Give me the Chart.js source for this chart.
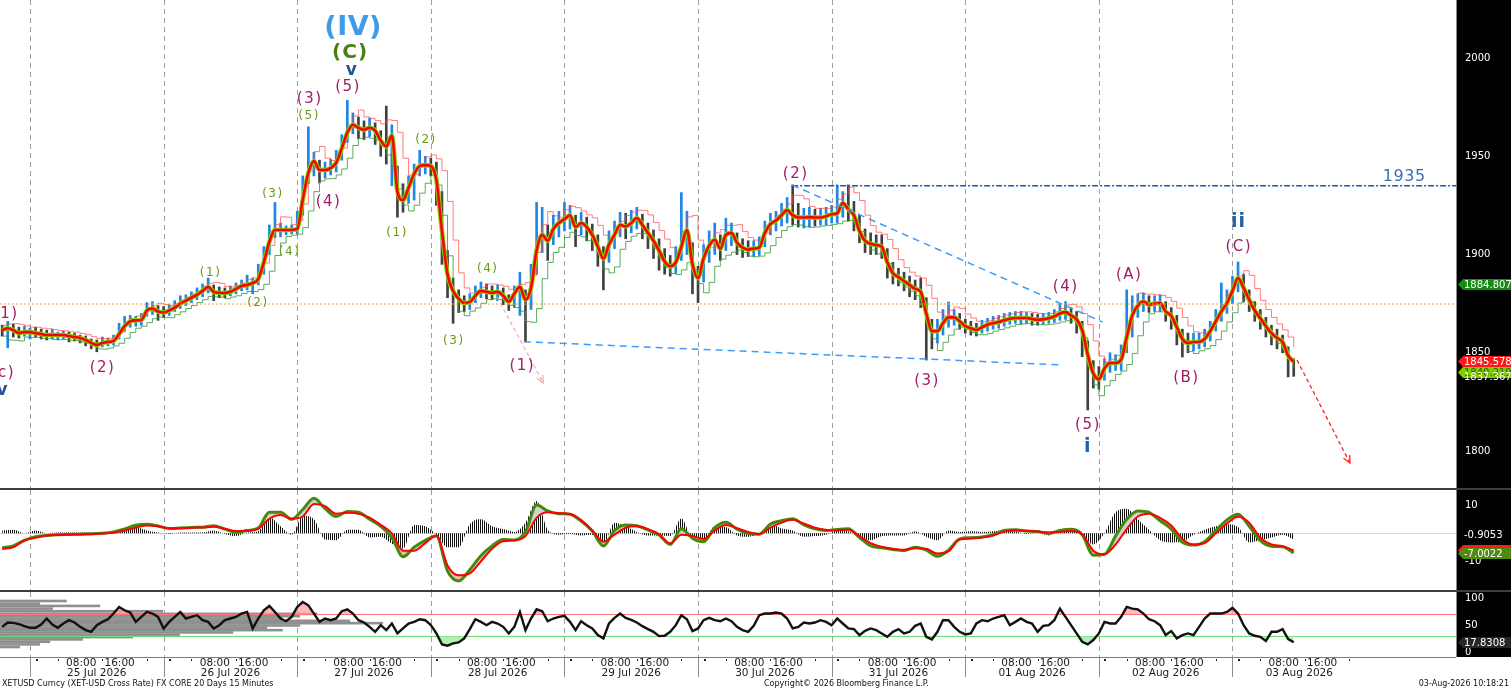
<!DOCTYPE html>
<html>
<head>
<meta charset="utf-8">
<title>XETUSD 15 min</title>
<script src="https://cdn.jsdelivr.net/npm/chart.js@4.4.1/dist/chart.umd.min.js"></script>
<style>
  html, body { margin:0; padding:0; background:#fff; }
  body { width:1511px; height:689px; position:relative; overflow:hidden; font-family:"DejaVu Sans", Verdana, sans-serif; }
  canvas { position:absolute; left:0; }
  #cMain { top:0; }
  #cMacd { top:490px; }
  #cRsi { top:592px; }
  .sep { position:absolute; left:0; width:1511px; height:2px; background:#3d3d3d; }
  .foot { position:absolute; top:679px; font-size:8px; line-height:10px; color:#111; white-space:nowrap; }
</style>
</head>
<body>
<canvas id="cMain" width="1511" height="488"></canvas>
<div class="sep" style="top:488px"></div>
<canvas id="cMacd" width="1511" height="100"></canvas>
<div class="sep" style="top:590px"></div>
<canvas id="cRsi" width="1511" height="97"></canvas>
<div class="foot" style="left:2px">XETUSD Curncy (XET-USD Cross Rate) FX CORE 20 Days 15 Minutes</div>
<div class="foot" style="left:764px">Copyright© 2026 Bloomberg Finance L.P.</div>
<div class="foot" style="right:2px">03-Aug-2026 10:18:21</div>
<script>
Chart.defaults.font.family = '"DejaVu Sans", Verdana, sans-serif';
Chart.defaults.animation = false;

// hours are counted from 25 Jul 2026 00:00, first bar is 24 Jul 19:00
const firstHour = -5;
const xMin = -5.389, xMax = 256.15;
const dayLabels = ['25 Jul 2026','26 Jul 2026','27 Jul 2026','28 Jul 2026','29 Jul 2026',
                   '30 Jul 2026','31 Jul 2026','01 Aug 2026','02 Aug 2026','03 Aug 2026'];
const priceTicks = [1800, 1850, 1900, 1950, 2000];
const macdTicks = [10, -10];
const rsiTicks = [100, 50, 0];

// hourly price (moving average line, bar high, bar low)
const ma = [
  1861.5,1862.5,1861.5,1860,1860.5,1860.5,1860,1859.5,1859,1859,
  1859,1859,1858.5,1858,1857.5,1856.5,1855,1854,1855,1855.5,
  1856,1859.5,1863.5,1866,1866.5,1866.7,1871.5,1872.5,1871,1870.5,
  1871.5,1873,1875,1876.5,1878,1879.5,1881.5,1883.5,1881,1880.5,
  1880.4,1881,1882.5,1884,1884.5,1885.5,1887.5,1896,1906.5,1912.5,
  1912.5,1912.5,1912.5,1913,1928,1941.5,1947.5,1943,1943,1944,
  1946.7,1954,1962,1966,1964.5,1963.5,1964.5,1963,1958,1955,
  1960.5,1932,1927.7,1934,1941,1945,1945.5,1945,1938,1912,
  1890,1881.5,1877.5,1875.3,1875.8,1879,1881.5,1881,1880.5,1881,
  1879,1876,1880,1883.5,1877,1883,1902,1910,1907,1913,
  1916,1918,1920,1914,1916,1914,1910,1904,1898,1905,
  1910,1915,1914.3,1916,1918.6,1915,1911,1907,1902,1896.5,
  1894,1896,1904,1912.5,1895,1888,1898,1904.5,1907.5,1903,
  1910,1911,1906,1903.5,1902.5,1903,1903.5,1911,1915.5,1917.3,
  1920,1922.6,1920,1918.8,1918.8,1919,1918.8,1918.8,1919.5,1920.5,
  1921,1926.2,1923,1920,1912,1907,1905.5,1904.8,1904,1896,
  1890.5,1888.5,1886.5,1884.5,1882.5,1881,1870,1861,1861,1865,
  1868,1868,1866,1863.5,1862.5,1861.6,1863,1864.3,1865,1865.6,
  1866.5,1867.3,1867.7,1867.7,1867.7,1867.2,1866.8,1867,1867.5,1868.5,
  1870,1870.7,1869,1867,1861.6,1849,1839.5,1836.5,1842,1844.8,
  1844.8,1846.5,1858,1869,1874,1876,1874.5,1875,1875.3,1871,
  1868.8,1863,1857,1855,1855.5,1855.5,1857,1861,1866,1871,
  1875.3,1881.5,1888,1883,1877,1871.5,1867.5,1863.5,1860,1857.5,
  1855.5,1848.5,1845.5
];
const hi = [
  1864,1866,1864.5,1863,1863.5,1862.5,1863,1862,1861.5,1862,
  1860.5,1861,1860.5,1860,1859,1858.5,1857,1856.5,1858,1857.5,
  1859,1865,1868.5,1869,1868.5,1870,1875.5,1876,1874,1873.5,
  1874.5,1876.5,1879,1879.5,1881,1883,1885,1888,1884.5,1883.5,
  1883,1884,1885.5,1887,1889.5,1888,1895,1904,1915,1926.5,
  1916,1914.5,1915,1922,1940,1965,1952,1948,1947,1948.5,
  1953,1961,1978.5,1972,1970,1968,1969.5,1967,1963,1975.5,
  1966,1945,1936,1940,1946,1953,1950,1949,1947,1932,
  1902,1888,1882,1879,1880,1884,1886,1885,1884,1884.5,
  1883,1879.5,1884,1891,1882,1895,1926.5,1924,1915,1920,
  1922,1926.5,1925,1920,1921.5,1919,1915.5,1910,1904,1912,
  1917,1921.5,1921,1922.5,1924,1920.5,1916,1912.5,1908,1903,
  1899.5,1904,1931.5,1922,1906,1894,1905,1912,1916,1910,
  1918.5,1916,1911,1908,1907,1907,1909,1917,1921,1922,
  1926,1929,1935.4,1926,1923.5,1924,1923,1923.5,1924,1925,
  1935.4,1932,1935.4,1927,1920,1913,1911,1910,1910,1903,
  1896,1893,1891,1889,1887,1888,1878,1867,1867,1872,
  1875.8,1872,1870,1867,1866,1865,1866.5,1867.5,1868.5,1869,
  1870,1870.5,1871,1871,1870.5,1870,1869.5,1870,1870.5,1872,
  1875,1876,1873,1871,1866,1856,1846,1843,1847,1850,
  1849,1854,1882,1879,1880,1880.5,1879,1879,1879.5,1876,
  1873,1869,1862,1860,1860,1860,1862,1866,1872,1885.5,
  1882,1889,1896.2,1890,1882,1876,1872,1868,1864,1862,
  1859,1853,1847
];
const lo = [
  1858.5,1852.5,1858,1857.5,1858.5,1857,1858,1857,1856.5,1857,
  1856.5,1857,1855.5,1856,1855,1853.5,1852,1850.5,1853,1853.5,
  1854,1857,1861,1863,1863.5,1864,1868.5,1869.5,1866.5,1868,
  1869,1871,1872.5,1874,1875.5,1877,1878.5,1880.5,1876.5,1878,
  1878,1879,1880,1881.5,1882,1880,1884.5,1890,1900,1908.5,
  1909,1910,1910.5,1910.5,1920,1936,1940,1936.5,1939,1940.5,
  1942,1948,1957,1961.5,1959,1958.5,1960,1956,1950,1946,
  1935,1919,1921.5,1926,1927.7,1940,1941,1940,1925,1895,
  1878,1865,1870.5,1871,1872,1875.5,1878,1877.5,1877,1876.5,
  1874.5,1871.5,1873,1869,1855.5,1872,1890,1901,1897,1905,
  1909,1912,1913,1904,1910,1907,1902,1894,1882,1896,
  1903,1909,1908,1911,1913,1908,1903,1898,1892,1890,
  1889,1890.5,1897,1900,1880,1875.5,1886,1896,1900,1897,
  1902,1904.5,1900,1898.5,1899,1899,1899.5,1904,1910,1912,
  1914.5,1916,1915,1914,1913.5,1914,1914.5,1915,1915,1916,
  1916,1919,1917,1912,1906,1901,1900,1900,1898,1888,
  1885,1884,1881.5,1878.5,1877,1873,1846.3,1852,1855,1859,
  1863,1864,1862,1860,1859,1858.5,1860,1861,1862,1862.5,
  1863.5,1864.5,1865,1864.5,1865,1864,1864,1864.5,1865,1865.5,
  1866.5,1867,1865,1860,1848,1820.9,1832,1831.5,1836,1840,
  1841,1841,1850,1858,1868,1871,1870.5,1871,1871,1866,
  1862,1854,1847.8,1850,1851,1852,1853,1856,1861,1866,
  1870,1875,1881,1876,1871,1866,1862,1858,1854,1852,
  1850,1837.7,1838
];

// MACD panel, one value every 2 hours from firstHour
const macdLine = [
  -5.2,-4.5,-2.5,-1.2,-0.8,-0.5,-0.4,-0.3,-0.2,0.0,
  0.5,1.6,2.9,3.2,2.6,1.7,1.9,2.1,2.2,2.7,
  1.5,0.4,1.0,1.9,7.5,7.5,5.0,8.5,12.5,8.8,
  6.0,7.8,7.5,5.0,2.5,-1.5,-8.4,-5.0,-2.5,-1.0,
  -13.5,-17.0,-13.0,-8.0,-4.5,-2.2,-2.4,0.5,10.1,8.0,
  7.0,6.8,4.4,0.8,-4.5,1.0,3.0,2.7,1.2,-0.6,
  -4.0,1.6,-1.8,-3.0,2.0,3.9,1.5,0.0,-0.3,3.3,
  4.5,5.2,3.0,1.6,1.0,1.4,1.6,-1.5,-4.5,-5.2,
  -5.8,-6.2,-5.0,-6.0,-8.2,-6.0,-2.0,-1.6,-1.3,-0.5,
  1.0,1.3,0.8,0.6,0.0,1.0,1.4,-0.5,-7.8,-7.5,
  -1.0,5.0,8.0,7.5,4.5,1.5,-3.2,-4.2,-3.0,1.0,
  4.8,6.8,2.5,-2.6,-4.6,-4.8,-7.0
];
const signalLine = [
  -5.6,-5.0,-2.5,-1.6,-0.8,-0.6,-0.5,-0.4,-0.3,-0.1,
  0.2,1.0,2.0,2.8,2.5,1.8,1.8,2.0,2.1,2.3,
  1.6,0.8,0.9,1.6,5.2,6.5,5.2,6.0,10.5,9.7,
  7.0,7.3,7.0,5.6,3.0,0.0,-6.2,-6.2,-3.5,-0.8,
  -11.5,-15.0,-14.3,-10.0,-5.5,-2.8,-2.6,-1.0,5.5,7.5,
  7.2,6.9,4.7,1.0,-3.0,-0.5,2.0,2.5,1.5,-0.3,
  -3.6,-0.5,-1.0,-2.0,1.0,3.0,1.8,0.5,-0.3,2.0,
  3.8,4.8,3.5,2.0,1.2,1.0,1.3,-1.0,-3.5,-4.8,
  -5.5,-5.9,-5.3,-5.5,-7.2,-6.4,-2.2,-1.9,-1.5,-0.8,
  0.6,1.0,0.9,0.6,0.3,0.5,0.8,-0.3,-6.2,-7.5,
  -4.0,1.5,6.0,7.0,5.5,2.8,-2.0,-4.0,-3.5,0.0,
  3.5,5.9,3.8,-1.6,-4.0,-4.6,-6.1
];

// RSI panel, hourly from firstHour
const rsi = [
  46.6,54.6,54,51.5,47.9,44.8,44.8,50.9,62,50.9,
  44.8,52.8,58.9,54.6,46.6,40.5,37.4,49.7,55.8,60.7,
  71.2,83.4,77.3,73,55.8,65,74.2,71.2,65,43.6,
  55.8,65,74.2,62,65,68.1,58.9,55.8,43.6,49.7,
  58.9,62,65,71.2,74.2,43.6,62,77.3,85.3,74.2,
  62,57,65,83.4,92.6,86.5,71.2,55.8,62,58.9,
  62,75.5,79.1,71.2,58.9,54.6,46.6,37.4,49.7,40.5,
  52.8,34.4,43.6,52.8,55.8,60.7,58.9,49.7,34.4,14.1,
  11.7,16,17.8,25.2,42.3,60.7,55.8,49.7,55.8,52.8,
  46.6,34.4,46.6,74.2,40.5,62,79.1,75.5,57,62,
  65,66.9,55.8,40.5,57,49.7,43.6,31.3,25.2,52.8,
  63.2,71.2,63.2,59.5,54.6,47.9,42.3,37.4,29.4,30,
  37.4,49.7,68.1,60.7,38.7,43.6,58.9,63.2,58.9,57,
  62,57,46.6,40.5,37.4,48.5,68.1,71.2,71.2,73,
  71.2,62,43.6,46.6,54.6,52.8,54.6,58.9,55.8,49.7,
  62,52.8,43.6,42.3,31.3,39.3,43.6,40.5,34.4,28.2,
  37.4,42.3,34.4,37.4,48.5,52.8,28.2,23.3,37.4,58.9,
  58.9,46.6,37.4,32.5,34.4,52.8,58.9,57,62,65,
  68.1,49.7,55.8,62,55.8,52.8,37.4,48.5,49.7,58.9,
  80.4,65,49.7,34.4,19,14.1,22.1,34.4,55.8,52.8,
  52.8,65,83.4,80.4,79.1,71.2,60.7,57,49.7,31.3,
  38.7,25.2,31.3,34.4,31.3,46.6,62,71.2,71.2,71.2,
  74.2,81.6,71.2,49.7,34.4,30,28.2,20.2,37.4,37.4,
  42.3,23.9,18
];
// grey distribution bars at the left of the RSI panel (level, length in hours)
const profLevel = [94.5,89.6,85.3,80.4,75.5,70.6,66.3,62,57.7,53.4,49.1,44.8,40.5,36.2,31.9,27.6,23.3,19,14.1,9.2];
const profLen   = [12,7.2,18,9.5,29.3,57,53.9,50.8,62.9,68.8,53.9,48,50.8,41.9,32.3,23.9,14.9,9,7.2,3.6];

const priceTags = [1884.807, 1840.219, 1845.578];
const lastPrice = 1837.367;
const macdHist = -0.9053, macdLast = -7.0022, signalLast = -6.1;
const rsiLast = 17.8308;

// wave labels: text, hour, price, style
const waves = [
  ['(IV)', 58.0, 2015.5, 'IV'], ['(C)', 57.4, 2002.5, 'CG'], ['v', 57.7, 1993.4, 'vb'],
  ['(5)', 57.0, 1985.2, 'M'], ['(3)', 50.1, 1979.1, 'M'], ['(5)', 50.0, 1970.5, 'G'],
  ['(4)', 53.5, 1926.9, 'M'], ['(3)', 43.5, 1930.8, 'G'], ['(4)', 46.5, 1901.3, 'G'],
  ['(1)', 32.3, 1890.6, 'G'], ['(2)', 40.8, 1875.3, 'G'], ['(1)', 65.8, 1910.9, 'G'],
  ['(2)', 71.0, 1958.5, 'G'], ['(3)', 76.0, 1856.2, 'G'], ['(4)', 82.1, 1892.6, 'G'],
  ['(1)', 88.3, 1843.0, 'M'], ['(2)', 12.9, 1842.2, 'M'], ['(1)', -4.5, 1869.7, 'M'],
  ['(c)', -5.0, 1839.7, 'M'], ['v', -5.0, 1830.5, 'vb'],
  ['(2)', 137.4, 1941.0, 'M'], ['(3)', 161.0, 1835.4, 'M'], ['(4)', 185.9, 1883.3, 'M'],
  ['(5)', 189.9, 1813.2, 'M'], ['i', 189.9, 1802.0, 'B'], ['(A)', 197.3, 1889.3, 'M'],
  ['(B)', 207.6, 1837.2, 'M'], ['(C)', 217.0, 1904.0, 'M'], ['ii', 217.0, 1916.3, 'B'],
  ['1935', 246.8, 1939.4, 'L']
];
const waveStyle = {
  IV: ['bold 27px "DejaVu Sans"', '#3d9ce8', 0.5],
  CG: ['bold 20px "DejaVu Sans"', '#4a7f12', 1],
  vb: ['bold 17px "DejaVu Sans"', '#24549a', 0],
  M:  ['15px "DejaVu Sans"', '#a01c68', 1.5],
  G:  ['12px "DejaVu Sans"', '#6a9a12', 1.5],
  B:  ['bold 19px "DejaVu Sans"', '#2362a6', 1],
  L:  ['16px "DejaVu Sans"', '#3a70b0', 0.5]
};
// drawn lines: hour1, price1, hour2, price2, kind
const drawnLines = [
  [xMin, 1874.8, xMax, 1874.8, 'orange'],
  [136.9, 1935.0, xMax, 1935.0, 'level'],
  [136.9, 1935.4, 192.7, 1865.6, 'channel'],
  [88.7, 1855.6, 185.4, 1843.8, 'channel'],
  [83.9, 1878.4, 92.2, 1834.6, 'pink'],
  [227.6, 1846.3, 237.1, 1793.9, 'red']
];
const lineStyle = {
  orange:  ['#f5a33c', 1, [2, 2], false],
  level:   ['#1a5aa8', 1.3, [6, 2, 2, 2], false],
  channel: ['#3b9cff', 1.5, [7, 5], false],
  pink:    ['#f6a8a8', 1.2, [4, 3], true],
  red:     ['#ff1f1f', 1.3, [4, 3], true]
};

const hrs = ma.map((_, i) => firstHour + i);
const hrs2 = macdLine.map((_, i) => firstHour + 2 * i);
const pts = (xs, arr) => arr.map((v, i) => ({x: xs[i], y: v}));
// upper / lower envelope from the last three hourly highs and lows
const upper = hi.map((_, i) => (hi[Math.max(0, i - 2)] + hi[Math.max(0, i - 1)] + hi[i]) / 3);
const lower = lo.map((_, i) => (lo[Math.max(0, i - 2)] + lo[Math.max(0, i - 1)] + lo[i]) / 3);
const hist = macdLine.map((v, i) => v - signalLine[i]);

//------------------------------------------------- shared drawing helpers
function axisBox(c) {
  const {ctx, chartArea: a} = c;
  ctx.save();
  ctx.fillStyle = '#000';
  ctx.fillRect(a.right, a.top, c.width - a.right, a.bottom - a.top);
  ctx.fillStyle = '#8a8a8a';
  ctx.fillRect(a.right, a.top, 1, a.bottom - a.top);
  ctx.restore();
}
function dayLines(c) {
  const {ctx, chartArea: a, scales: {x}} = c;
  ctx.save();
  ctx.strokeStyle = '#9d9d9d'; ctx.lineWidth = 1; ctx.setLineDash([5, 4]);
  for (let d = 0; d < dayLabels.length; d++) {
    const px = Math.round(x.getPixelForValue(d * 24)) + 0.5;
    ctx.beginPath(); ctx.moveTo(px, a.top); ctx.lineTo(px, a.bottom); ctx.stroke();
  }
  ctx.restore();
}
function axisText(c, vals) {
  const {ctx, chartArea: a, scales: {y}} = c;
  ctx.save();
  ctx.font = '10px "DejaVu Sans"'; ctx.fillStyle = '#fff';
  ctx.textAlign = 'left'; ctx.textBaseline = 'middle';
  vals.forEach(v => ctx.fillText(String(v), a.right + 9, y.getPixelForValue(v)));
  ctx.restore();
}
function tag(c, v, txt, bg, fg) {
  const {ctx, chartArea: a, scales: {y}} = c;
  const py = Math.round(y.getPixelForValue(v)) + 0.5, x0 = a.right + 2;
  ctx.save();
  ctx.beginPath();
  ctx.moveTo(x0, py); ctx.lineTo(x0 + 5, py - 5.5); ctx.lineTo(c.width, py - 5.5);
  ctx.lineTo(c.width, py + 5.5); ctx.lineTo(x0 + 5, py + 5.5); ctx.closePath();
  ctx.fillStyle = bg; ctx.fill();
  if (txt) {
    ctx.font = '10px "DejaVu Sans"'; ctx.fillStyle = fg;
    ctx.textAlign = 'left'; ctx.textBaseline = 'middle';
    ctx.fillText(txt, a.right + 8, py + 0.5);
  }
  ctx.restore();
}
function plainTag(c, v, txt) {
  const {ctx, chartArea: a, scales: {y}} = c;
  ctx.save();
  ctx.font = '10px "DejaVu Sans"'; ctx.fillStyle = '#fff';
  ctx.textAlign = 'left'; ctx.textBaseline = 'middle';
  ctx.fillText(txt, a.right + 8, y.getPixelForValue(v));
  ctx.restore();
}

//------------------------------------------------- Price panel
const mainDeco = {
  id: 'mainDeco',
  beforeDraw(c) { axisBox(c); dayLines(c); },
  afterDatasetsDraw(c) {
    const {ctx, scales: {x, y}} = c;
    drawnLines.forEach(([h1, p1, h2, p2, kind]) => {
      const [col, w, dash, arrow] = lineStyle[kind];
      const x1 = x.getPixelForValue(h1), y1 = y.getPixelForValue(p1);
      const x2 = x.getPixelForValue(h2), y2 = y.getPixelForValue(p2);
      ctx.save();
      ctx.strokeStyle = col; ctx.lineWidth = w; ctx.setLineDash(dash);
      ctx.beginPath(); ctx.moveTo(x1, y1); ctx.lineTo(x2, y2); ctx.stroke();
      if (arrow) {
        const ang = Math.atan2(y2 - y1, x2 - x1);
        ctx.setLineDash([]);
        ctx.beginPath();
        ctx.moveTo(x2 - 8 * Math.cos(ang - 0.45), y2 - 8 * Math.sin(ang - 0.45));
        ctx.lineTo(x2, y2);
        ctx.lineTo(x2 - 8 * Math.cos(ang + 0.45), y2 - 8 * Math.sin(ang + 0.45));
        ctx.stroke();
      }
      ctx.restore();
    });
    waves.forEach(([t, h, p, s]) => {
      const [font, col, sp] = waveStyle[s];
      ctx.save();
      ctx.font = font; ctx.fillStyle = col;
      ctx.letterSpacing = sp + 'px';
      ctx.textAlign = 'center'; ctx.textBaseline = 'middle';
      ctx.fillText(t, x.getPixelForValue(h) + sp / 2, y.getPixelForValue(p));
      ctx.restore();
    });
  },
  afterDraw(c) {
    axisText(c, priceTicks);
    tag(c, priceTags[0], priceTags[0].toFixed(3), '#148a14', '#fff');
    tag(c, priceTags[1], priceTags[1].toFixed(3), '#80cc00', '#2d5e00');
    tag(c, priceTags[2], priceTags[2].toFixed(3), '#ff1616', '#fff');
    plainTag(c, lastPrice, lastPrice.toFixed(3));
  }
};

new Chart(document.getElementById('cMain'), {
  type: 'bar',
  data: {
    datasets: [
      {type: 'line', data: pts(hrs, ma), borderColor: '#ff0000', borderWidth: 2.6,
       pointRadius: 0, cubicInterpolationMode: 'monotone', order: 1},
      {type: 'line', data: pts(hrs, ma), borderColor: '#8ad400', borderWidth: 4.6,
       pointRadius: 0, cubicInterpolationMode: 'monotone', order: 2},
      {type: 'line', data: pts(hrs, upper), borderColor: 'rgba(255,70,70,0.7)', borderWidth: 1,
       pointRadius: 0, stepped: true, order: 3},
      {type: 'line', data: pts(hrs, lower), borderColor: 'rgba(50,150,50,0.8)', borderWidth: 1,
       pointRadius: 0, stepped: true, order: 3},
      {type: 'bar', data: hrs.map((h, i) => ({x: h, y: [lo[i], hi[i]]})),
       backgroundColor: ma.map((v, i) => (i > 0 && v >= ma[i - 1]) ? '#1e86e6' : '#404040'),
       borderWidth: 0, barThickness: 2, order: 5}
    ]
  },
  options: {
    responsive: false,
    layout: {padding: {left: 0, right: 55, top: 0, bottom: 0}},
    plugins: {legend: {display: false}, tooltip: {enabled: false}},
    scales: {
      x: {type: 'linear', min: xMin, max: xMax, display: false, offset: false},
      y: {min: 1781.17, max: 2029.52, display: false}
    }
  },
  plugins: [mainDeco]
});

//------------------------------------------------- MACD panel
const macdCanvas = document.getElementById('cMacd');
const stripeSrc = document.createElement('canvas');
stripeSrc.width = 2; stripeSrc.height = 2;
const sctx = stripeSrc.getContext('2d');
sctx.fillStyle = '#111'; sctx.fillRect(0, 0, 1, 2);
const stripes = macdCanvas.getContext('2d').createPattern(stripeSrc, 'repeat');
const histZoom = 2.5;   // histogram is drawn on its own, taller scale

const macdDeco = {
  id: 'macdDeco',
  beforeDraw(c) {
    axisBox(c); dayLines(c);
    const {ctx, chartArea: a, scales: {y}} = c;
    const py = Math.round(y.getPixelForValue(0)) + 0.5;
    ctx.save(); ctx.strokeStyle = '#d9d9d9'; ctx.lineWidth = 1;
    ctx.beginPath(); ctx.moveTo(a.left, py); ctx.lineTo(a.right, py); ctx.stroke();
    ctx.restore();
  },
  afterDraw(c) {
    axisText(c, macdTicks);
    plainTag(c, macdHist, macdHist.toFixed(4));
    tag(c, signalLast, '', '#ff1a1a', '#fff');
    tag(c, macdLast, macdLast.toFixed(4), '#4d8a10', '#fff');
  }
};

new Chart(macdCanvas, {
  type: 'line',
  data: {
    datasets: [
      {data: pts(hrs2, macdLine), borderColor: '#468a0c', borderWidth: 3, pointRadius: 0,
       cubicInterpolationMode: 'monotone', order: 2,
       fill: {target: 1, above: '#d2d2d2', below: '#f6b3b3'}},
      {data: pts(hrs2, signalLine), borderColor: '#ff0000', borderWidth: 2, pointRadius: 0,
       cubicInterpolationMode: 'monotone', order: 1},
      {data: pts(hrs2, hist), yAxisID: 'yh', borderWidth: 0, pointRadius: 0, order: 3,
       cubicInterpolationMode: 'monotone',
       fill: {target: 'origin', above: stripes, below: stripes}}
    ]
  },
  options: {
    responsive: false,
    layout: {padding: {left: 0, right: 55, top: 0, bottom: 0}},
    plugins: {legend: {display: false}, tooltip: {enabled: false},
              filler: {drawTime: 'beforeDatasetsDraw'}},
    scales: {
      x: {type: 'linear', min: xMin, max: xMax, display: false},
      y: {min: -20.25, max: 15.46, display: false},
      yh: {min: -20.25 / histZoom, max: 15.46 / histZoom, display: false}
    }
  },
  plugins: [macdDeco]
});

//------------------------------------------------- RSI panel with time axis
const rsiDeco = {
  id: 'rsiDeco',
  beforeDraw(c) {
    axisBox(c); dayLines(c);
    const {ctx, chartArea: a, scales: {x, y}} = c;
    ctx.save();
    ctx.fillStyle = '#8f8f8f';
    profLevel.forEach((lv, i) => {
      const x0 = x.getPixelForValue(xMin), x1 = x.getPixelForValue(xMin + profLen[i]);
      ctx.fillRect(x0, y.getPixelForValue(lv) - 1.3, x1 - x0, 2.6);
    });
    [[70, '#ff7070'], [30, '#6fdc6f']].forEach(([v, col]) => {
      const py = Math.round(y.getPixelForValue(v)) + 0.5;
      ctx.strokeStyle = col; ctx.lineWidth = 1;
      ctx.beginPath(); ctx.moveTo(a.left, py); ctx.lineTo(a.right, py); ctx.stroke();
    });
    ctx.restore();
  },
  afterDraw(c) {
    axisText(c, rsiTicks);
    tag(c, rsiLast, rsiLast.toFixed(4), '#262626', '#fff');
    const {ctx, chartArea: a, scales: {x}} = c;
    ctx.save();
    ctx.strokeStyle = '#7d7d7d'; ctx.lineWidth = 1;
    ctx.beginPath(); ctx.moveTo(a.left, a.bottom + 0.5); ctx.lineTo(a.right, a.bottom + 0.5); ctx.stroke();
    ctx.font = '10.5px "DejaVu Sans"'; ctx.fillStyle = '#1a1a1a';
    ctx.textAlign = 'center'; ctx.textBaseline = 'middle';
    dayLabels.forEach((lab, d) => {
      const px = Math.round(x.getPixelForValue(d * 24)) + 0.5;
      ctx.strokeStyle = '#8c8c8c';
      ctx.beginPath(); ctx.moveTo(px, a.bottom); ctx.lineTo(px, a.bottom + 20); ctx.stroke();
      ctx.fillStyle = '#222';
      ctx.fillRect(Math.round(x.getPixelForValue(d * 24 + 1)), a.bottom + 2, 2, 2);
      [5, 13, 21].forEach(hh => ctx.fillRect(Math.round(x.getPixelForValue(d * 24 + hh)), a.bottom + 2, 1, 2));
      ctx.fillStyle = '#1a1a1a';
      ctx.fillText('08:00', x.getPixelForValue(d * 24 + 9.2), a.bottom + 6.5);
      ctx.fillText('16:00', x.getPixelForValue(d * 24 + 16.1), a.bottom + 6.5);
      ctx.fillText(lab, x.getPixelForValue(d * 24 + 12), a.bottom + 16.5);
    });
    ctx.restore();
  }
};

new Chart(document.getElementById('cRsi'), {
  type: 'line',
  data: {
    datasets: [
      {data: pts(hrs, rsi), borderColor: '#111', borderWidth: 2.4, pointRadius: 0, order: 1},
      {data: pts(hrs, rsi), borderWidth: 0, pointRadius: 0, order: 2,
       fill: {target: {value: 70}, above: 'rgba(255,160,160,0.75)', below: 'rgba(0,0,0,0)'}},
      {data: pts(hrs, rsi), borderWidth: 0, pointRadius: 0, order: 3,
       fill: {target: {value: 30}, above: 'rgba(0,0,0,0)', below: 'rgba(150,235,150,0.75)'}}
    ]
  },
  options: {
    responsive: false,
    layout: {padding: {left: 0, right: 55, top: 0, bottom: 32}},
    plugins: {legend: {display: false}, tooltip: {enabled: false},
              filler: {drawTime: 'beforeDatasetsDraw'}},
    scales: {
      x: {type: 'linear', min: xMin, max: xMax, display: false},
      y: {min: -9.26, max: 111.11, display: false}
    }
  },
  plugins: [rsiDeco]
});
</script>
</body>
</html>
